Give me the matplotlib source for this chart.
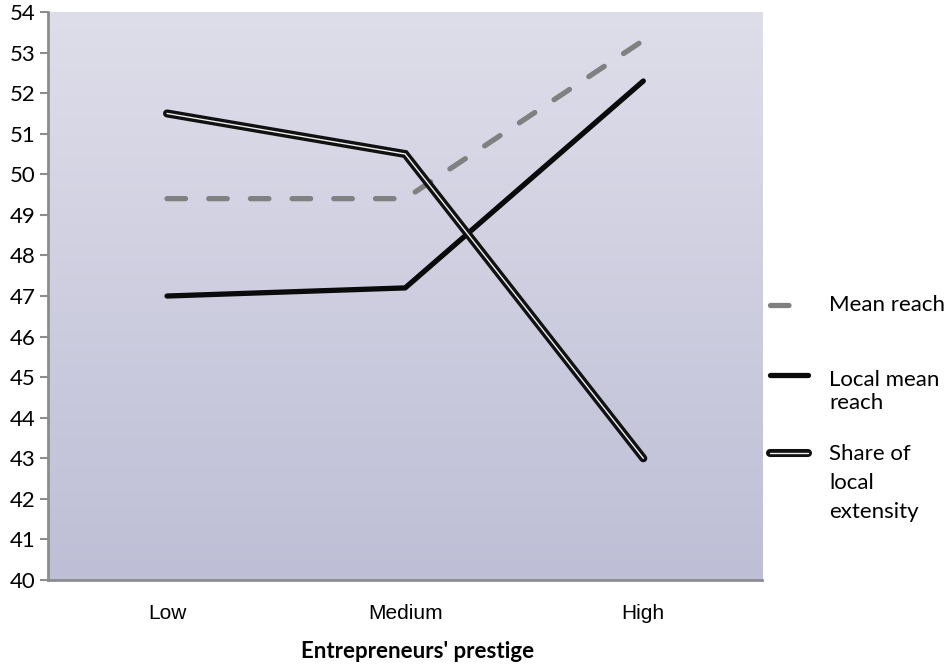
import matplotlib.pyplot as plt
import matplotlib.patheffects as pe
from matplotlib.lines import Line2D
import numpy as np

plt.rcParams['font.family'] = ['Lato', 'DejaVu Sans']

categories = ['Low', 'Medium', 'High']
mean_reach = [49.4, 49.4, 53.3]
local_mean_reach = [47.0, 47.2, 52.3]
share_local_extensity = [51.5, 50.5, 43.0]

fig = plt.figure(figsize=(9.5, 6.68), dpi=100)
ax = fig.add_axes([0.0505, 0.1317, 0.752, 0.8503])

x = np.arange(len(categories)) + 0.5

# gradient background
grad = np.linspace(0, 1, 256).reshape(-1, 1)
top = np.array([0xde, 0xde, 0xea]) / 255
bot = np.array([0xbe, 0xbe, 0xd6]) / 255
img = top + (bot - top) * grad[:, :, None]
ax.imshow(img, extent=[0, 1, 0, 1], transform=ax.transAxes, aspect='auto', zorder=0)

dash_kw = dict(color='#808080', lw=3.8, dashes=(3.5, 4.4), dash_capstyle='round',
               solid_capstyle='round')
solid_kw = dict(color='#0a0a0a', lw=3.8, solid_capstyle='round', solid_joinstyle='round')
dbl_effects = [pe.Stroke(linewidth=5.8, foreground='#111111'), pe.Normal()]
dbl_kw = dict(color='#f0f0f0', lw=1.0, solid_capstyle='round', solid_joinstyle='miter',
              path_effects=dbl_effects)

ax.plot(x, mean_reach, zorder=3, **dash_kw)
ax.plot(x, local_mean_reach, zorder=4, **solid_kw)
ax.plot(x, share_local_extensity, zorder=5, **dbl_kw)

ax.set_xlim(0, 3)
ax.set_ylim(40, 54)
ax.set_yticks(range(40, 55))
ax.set_xticks(x)
ax.set_xticklabels(categories, fontsize=15, family=['Liberation Sans', 'DejaVu Sans'])
ax.tick_params(axis='y', labelsize=16, color='#8c8c8c', length=6, width=1.5, pad=3)
ax.tick_params(axis='x', length=0, pad=17)
for s in ['top', 'right']:
    ax.spines[s].set_visible(False)
for s in ['left', 'bottom']:
    ax.spines[s].set_color('#8c8c8c')
    ax.spines[s].set_linewidth(2)
ax.set_xlabel("Entrepreneurs' prestige", fontsize=16, fontweight='bold')
ax.xaxis.set_label_coords(0.518, -0.107)

# legend drawn beside the plot
def key(y, **kw):
    fig.add_artist(Line2D([0.810, 0.851], [y, y], transform=fig.transFigure, **kw))

key(1 - 305 / 668, **dash_kw)
fig.text(0.873, 1 - 305 / 668, 'Mean reach', fontsize=16, va='center')
key(1 - 375 / 668, **solid_kw)
fig.text(0.873, 1 - 370 / 668, 'Local mean\nreach', fontsize=16, va='top', linespacing=1.2)
key(1 - 453 / 668, **dbl_kw)
fig.text(0.873, 1 - 444 / 668, 'Share of\nlocal\nextensity', fontsize=16, va='top',
         linespacing=1.55)

fig.savefig('out.png', dpi=100, facecolor='white')
